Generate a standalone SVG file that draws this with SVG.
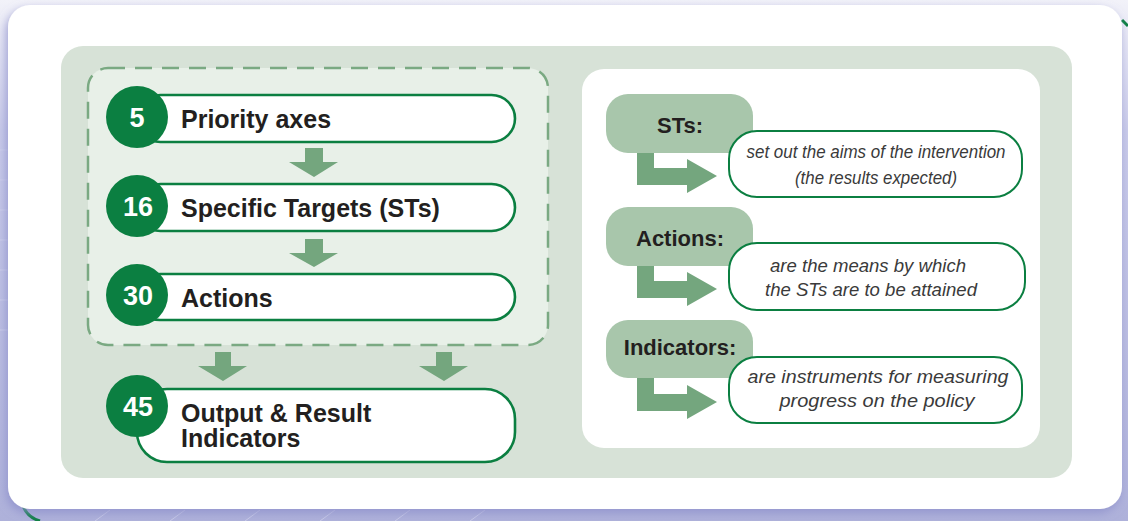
<svg xmlns="http://www.w3.org/2000/svg" width="1128" height="521" viewBox="0 0 1128 521">
<defs>
<linearGradient id="bg" x1="0" y1="0" x2="0" y2="1">
<stop offset="0" stop-color="#f2f2f9"/>
<stop offset="0.25" stop-color="#c9cbe9"/>
<stop offset="1" stop-color="#aeb1da"/>
</linearGradient>
<filter id="sh" x="-5%" y="-5%" width="110%" height="115%">
<feDropShadow dx="-2" dy="4" stdDeviation="5" flood-color="#8d8fcb" flood-opacity="0.8"/>
</filter>
<style>
.pill{fill:#fff;stroke:#0b7f41;stroke-width:2.6}
.num{fill:#0b7f41}
.numt{font-family:"Liberation Sans",Arial,sans-serif;font-weight:bold;font-size:27px;fill:#fff;text-anchor:middle}
.lbl{font-family:"Liberation Sans",Arial,sans-serif;font-weight:bold;font-size:25px;fill:#231f20}
.arr{fill:#74a67e}
.tab{fill:#a8c6ab}
.tabt{font-family:"Liberation Sans",Arial,sans-serif;font-weight:bold;font-size:22px;fill:#231f20;text-anchor:middle}
.desc{fill:#fff;stroke:#0b7f41;stroke-width:2}
.dt{font-family:"Liberation Sans",Arial,sans-serif;font-style:italic;font-size:18px;fill:#3a3a3a;text-anchor:middle}
</style>
</defs>
<rect x="0" y="0" width="1128" height="521" fill="url(#bg)"/>
<g stroke="#d6d7ee" stroke-width="1" opacity="0.7">
<path d="M0 150 H8 M0 180 H8 M0 210 H8 M0 240 H8 M0 270 H8 M0 300 H8 M0 330 H8"/>
<path d="M95 521 L110 510 M170 521 L185 510 M245 521 L260 510 M320 521 L335 510 M395 521 L410 510 M470 521 L485 510"/>
</g>
<path d="M22 503 Q26 517 40 521" fill="none" stroke="#0b7f41" stroke-width="3"/>
<path d="M1122 20 L1128 26" fill="none" stroke="#0b7f41" stroke-width="3"/>
<rect x="8" y="5" width="1114" height="504" rx="22" fill="#fff" filter="url(#sh)"/>
<rect x="61" y="46" width="1011" height="432" rx="22" fill="#d7e2d7"/>
<rect x="582" y="69" width="458" height="379" rx="22" fill="#fff"/>

<g id="group-left">
<rect x="88" y="68" width="460" height="277" rx="20" fill="#e8f0e8" stroke="#7aa982" stroke-width="2.5" stroke-dasharray="17 10"/>
</g>

<g id="connectors">
<path class="arr" d="M305 148 H323 V162 H338 L314 177 L289 162 H305 Z"/>
<path class="arr" d="M305 239 H323 V253 H338 L314 267 L289 253 H305 Z"/>
<path class="arr" d="M215 352 H231 V366 H247 L223 381 L198 366 H215 Z"/>
<path class="arr" d="M436 352 H452 V366 H468 L444 381 L419 366 H436 Z"/>
<path class="arr" d="M637 150 H654 V168 H687 V159 L717 176 L687 193 V185 H637 Z"/>
<path class="arr" d="M637 263 H654 V281 H687 V272 L717 289 L687 306 V298 H637 Z"/>
<path class="arr" d="M637 376 H654 V394 H687 V385 L717 402 L687 419 V411 H637 Z"/>
</g>

<g id="node-priority">
<rect class="pill" x="137" y="95" width="378" height="47" rx="23.5"/>
<circle class="num" cx="137" cy="117" r="31"/>
<text class="numt" x="137" y="127">5</text>
<text class="lbl" x="181" y="128">Priority axes</text>
</g>
<g id="node-targets">
<rect class="pill" x="137" y="184" width="378" height="47" rx="23.5"/>
<circle class="num" cx="137" cy="206" r="31"/>
<text class="numt" x="138" y="216">16</text>
<text class="lbl" x="181" y="217">Specific Targets (STs)</text>
</g>
<g id="node-actions">
<rect class="pill" x="137" y="274" width="378" height="46" rx="23"/>
<circle class="num" cx="137" cy="295" r="31"/>
<text class="numt" x="138" y="305">30</text>
<text class="lbl" x="181" y="307">Actions</text>
</g>
<g id="node-indicators">
<rect class="pill" x="137" y="389" width="378" height="73" rx="30"/>
<circle class="num" cx="137" cy="406" r="31"/>
<text class="numt" x="138" y="416">45</text>
<text class="lbl" x="181" y="422">Output &amp; Result</text>
<text class="lbl" x="181" y="447">Indicators</text>
</g>

<g id="node-sts-def">
<rect class="tab" x="606" y="94" width="147" height="59" rx="22"/>
<text class="tabt" x="680" y="133">STs:</text>
<rect class="desc" x="729" y="131" width="293" height="66" rx="28"/>
<text class="dt" x="876" y="158" textLength="259" lengthAdjust="spacingAndGlyphs">set out the aims of the intervention</text>
<text class="dt" x="876" y="184" textLength="162" lengthAdjust="spacingAndGlyphs">(the results expected)</text>
</g>
<g id="node-actions-def">
<rect class="tab" x="606" y="207" width="147" height="59" rx="22"/>
<text class="tabt" x="680" y="246">Actions:</text>
<rect class="desc" x="729" y="243" width="296" height="67" rx="28"/>
<text class="dt" x="868" y="272" textLength="196" lengthAdjust="spacingAndGlyphs">are the means by which</text>
<text class="dt" x="871" y="296" textLength="212" lengthAdjust="spacingAndGlyphs">the STs are to be attained</text>
</g>
<g id="node-indicators-def">
<rect class="tab" x="606" y="320" width="147" height="58" rx="22"/>
<text class="tabt" x="680" y="355">Indicators:</text>
<rect class="desc" x="729" y="357" width="293" height="66" rx="28"/>
<text class="dt" x="878" y="383" textLength="261" lengthAdjust="spacingAndGlyphs">are instruments for measuring</text>
<text class="dt" x="877" y="407" textLength="195" lengthAdjust="spacingAndGlyphs">progress on the policy</text>
</g>
</svg>
